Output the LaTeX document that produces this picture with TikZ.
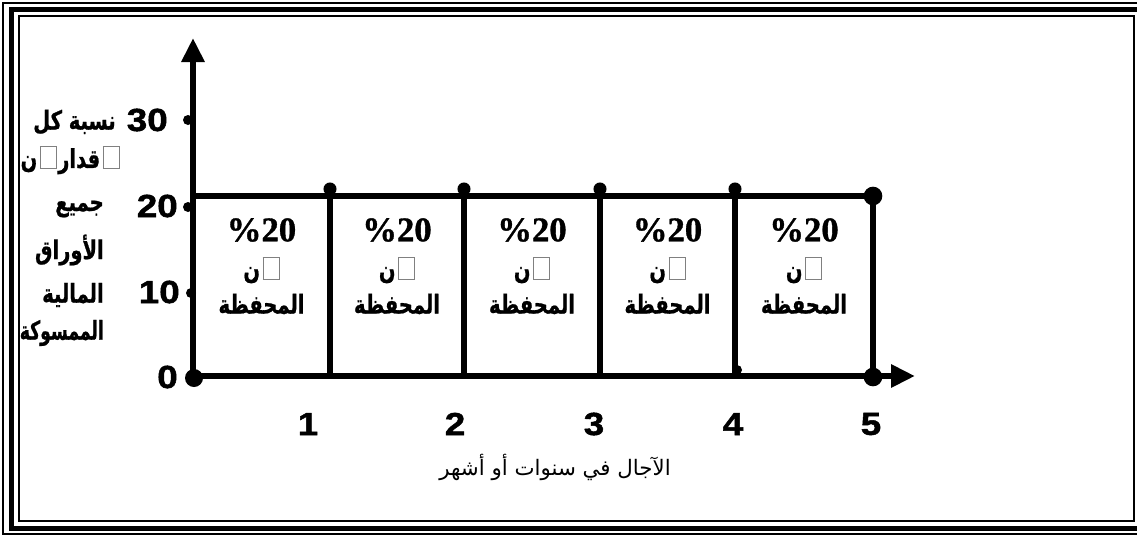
\documentclass[tikz,border=0pt]{standalone}
\usepackage{fontspec}
\setmainfont{Liberation Sans}
\newfontfamily\arab[Script=Arabic,FakeStretch=0.75,FakeBold=0.8]{DejaVu Sans Bold}
\newfontfamily\arabnarrow[Script=Arabic,FakeStretch=0.66,FakeBold=0.8]{DejaVu Sans Bold}
\newfontfamily\arabcap[Script=Arabic]{DejaVu Sans}
\newfontfamily\tms[FakeBold=1]{Liberation Serif Bold}
\newfontfamily\numfont[FakeBold=1.5,FakeStretch=1.15]{Liberation Sans Bold}
\usetikzlibrary{arrows.meta}
\TeXXeTstate=1
\newcommand\tofu{\hspace{2pt}{\color{gray}\setlength\fboxrule{0.6pt}\setlength\fboxsep{0pt}\fbox{\rule{0pt}{16pt}\hspace{11.5pt}}}}
\newcommand\ar[1]{{\beginR #1\endR}}
\tikzset{
  axisline/.style={line width=4.5pt,-{Triangle[length=18pt,width=16.5pt]}},
  gridline/.style={line width=4.5pt},
  num/.style={font=\numfont\fontsize{24}{24}\selectfont,inner sep=0pt},
  pct/.style={font=\tms\fontsize{26}{26}\selectfont,inner sep=0pt},
  arlabel/.style={font=\arab\fontsize{19.5}{19.5}\selectfont,inner sep=0pt},
  caption/.style={font=\arabcap\fontsize{16}{16}\selectfont,inner sep=0pt},
  dot/.style={fill=black}
}
\begin{document}
\begin{tikzpicture}[x=0.75pt,y=-0.75pt]
\useasboundingbox (0,0) rectangle (1137,536);
\fill[white] (0,0) rectangle (1137,536);
% frame
\draw[line width=1.5pt] (3,3) rectangle (1150,534);
\draw[line width=3.75pt] (11,9.5) rectangle (1142,528.5);
\draw[line width=1.5pt] (18.5,16) rectangle (1133.5,521);
% coordinates
\coordinate (O) at (193,376);
\coordinate (Ytip) at (193,38);
\coordinate (Xtip) at (915,376);
\coordinate (T0) at (193,196);
\foreach \n/\x in {1/330,2/464,3/600,4/735,5/873}{
  \coordinate (T\n) at (\x,196);
  \coordinate (B\n) at (\x,376);
}
% axes
\draw[axisline] (O) -- (Ytip);
\draw[axisline] (O) -- (Xtip);
% grid
\draw[gridline] (T0) -- (T5);
\foreach \n in {1,...,5}{\draw[gridline] (T\n) -- (B\n);}
% dots
\fill[dot] (188,120) circle[radius=3.75pt];
\fill[dot] (188,207) circle[radius=3.75pt];
\fill[dot] (191,293) circle[radius=3.75pt];
\fill[dot] (194,378) circle[radius=6.75pt];
\foreach \x in {330,464,600,735}{\fill[dot] (\x,189) circle[radius=4.9pt];}
\fill[dot] (873,196) circle[radius=7pt];
\fill[dot] (873,377) circle[radius=7pt];
\fill[dot] (737,370) circle[radius=3.75pt];
% y tick labels
\node[num,anchor=east] (y30) at (168,120) {30};
\node[num,anchor=east] (y20) at (178,206) {20};
\node[num,anchor=east] (y10) at (180,292) {10};
\node[num,anchor=east] (y0) at (178,377) {0};
% y axis title
\node[arlabel,anchor=east] (l1) at (116,122) {\ar{نسبة كل}};
\node[arlabel,anchor=east] (l2) at (120,160) {\ar{ن}\tofu\hspace{1pt}\ar{قدار}\tofu};
\node[arlabel,anchor=east] (l3) at (104,209) {\ar{جميع}};
\node[arlabel,anchor=east] (l4) at (104,250) {\ar{الأوراق}};
\node[arlabel,anchor=east] (l5) at (104,295) {\ar{المالية}};
\node[arlabel,font=\arabnarrow\fontsize{19.5}{19.5}\selectfont,anchor=east] (l6) at (104,333) {\ar{الممسوكة}};
% box labels
\foreach \i/\x in {1/261.5,2/397,3/532,4/667.5,5/804}{
  \node[pct] (p\i) at (\x,230) {\%20};
  \node[arlabel] (m\i) at (\x,270) {\ar{ن}\tofu};
  \node[arlabel] (h\i) at (\x,304) {\ar{المحفظة}};
}
% x tick labels
\node[num] (x1) at (308,424) {1};
\node[num] (x2) at (455,424) {2};
\node[num] (x3) at (594,424) {3};
\node[num] (x4) at (733,424) {4};
\node[num] (x5) at (871,424) {5};
% x axis title
\node[caption] (xt) at (555,467) {\ar{الآجال في سنوات أو أشهر}};
\end{tikzpicture}
\end{document}
